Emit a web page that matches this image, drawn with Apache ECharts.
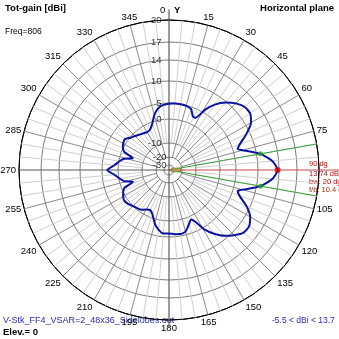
<!DOCTYPE html>
<html>
<head>
<meta charset="utf-8">
<script src="https://cdn.jsdelivr.net/npm/echarts@6/dist/echarts.min.js"></script>
<style>
  html, body { margin: 0; padding: 0; background: #fff; }
  #chart { width: 339px; height: 339px; }
</style>
</head>
<body>
<div id="chart"></div>
<script>
// Horizontal-plane total gain pattern, azimuth measured clockwise from +Y
const azimuthDeg = [0, 5, 10, 15, 20, 24, 27, 31, 35, 40, 45, 50, 55, 60, 65, 70, 73, 76, 80, 85,
  90, 95, 100, 104, 107, 110, 115, 120, 125, 130, 135, 140, 145, 149, 153, 156, 160, 165, 170, 175,
  180, 185, 190, 195, 200, 205, 210, 215, 220, 225, 230, 235, 240, 244, 248, 252, 256, 260, 265,
  270, 275, 280, 284, 288, 292, 296, 300, 305, 310, 315, 320, 325, 330, 335, 340, 345, 350, 355];
const gainDbi = [4.8, 4.9, 4.9, 4.8, 4.3, 2.4, 2.4, 5.8, 7.9, 9.8, 11.0, 11.8, 11.9, 11.1, 9.2, 6.9, 6.1, 7.8, 10.74, 12.8,
  13.74, 12.8, 10.74, 7.8, 6.1, 6.8, 9.2, 10.9, 11.7, 11.6, 10.6, 9.3, 7.4, 5.6, 2.2, 1.0, 2.2, 4.0, 4.4, 4.2,
  3.9, 4.0, 3.0, 1.3, -1.3, -2.8, -2.2, -1.0, -0.5, 0.0, 0.6, 1.0, 0.6, 0.0, -1.2, -5.5, -2.0, -0.4, 1.2,
  3.34, 1.2, -0.3, -2.0, -5.4, -1.2, 0.1, 0.6, 0.9, -0.3, -1.2, -2.0, -2.6, -3.0, -2.6, -0.8, 1.8, 3.6, 4.5];

// Ring values (dBi) and compass tick labels
const ringDbi = [20, 17, 14, 10, 5, 0, -10, -20, -30];
const angleTickDeg = [0, 15, 30, 45, 60, 75, 90, 105, 120, 135, 150, 165, 180, 195, 210, 225, 240, 255, 270, 285, 300, 315, 330, 345];

// Main-lobe summary
const peakAzimuth = 90;
const peakGain = 13.74;
const beamwidthDeg = 20;
const frontToBack = 10.4;
const freqMHz = 806;
const elevationDeg = 0;
const fileName = 'V-Stk_FF4_VSAR=2_48x36_Sidelobes.out';

// Compressed radial scale: dB -> radius units (outer ring = 150)
const SCALE_DB = [-40, -30, -20, -10, 0, 5, 10, 14, 17, 20];
const SCALE_R  = [0, 5, 13, 27, 51, 67, 89, 110, 128, 150];
function mapR(db) {
  if (db <= SCALE_DB[0]) return 0;
  for (let i = 1; i < SCALE_DB.length; i++) {
    if (db <= SCALE_DB[i]) {
      const t = (db - SCALE_DB[i - 1]) / (SCALE_DB[i] - SCALE_DB[i - 1]);
      return SCALE_R[i - 1] + t * (SCALE_R[i] - SCALE_R[i - 1]);
    }
  }
  return SCALE_R[SCALE_R.length - 1];
}
const R_MAX = mapR(ringDbi[0]);

const FONT = 'Liberation Sans, Arial, sans-serif';
const chart = echarts.init(document.getElementById('chart'), null, { renderer: 'canvas' });

const patternData = azimuthDeg.map((a, i) => [mapR(gainDbi[i]), a]);
patternData.push(patternData[0]);

// spokes: every 5 deg, 15-deg ones darker and starting further in
const spokeData = [];
for (let a = 0; a < 360; a += 5) {
  if (a % 90 === 0) continue;
  const major = a % 15 === 0;
  spokeData.push([major ? mapR(-20) : mapR(-10), a, major ? 1 : 0]);
}

const gMin = Math.min(...gainDbi), gMax = Math.max(...gainDbi);
const halfBw = beamwidthDeg / 2;

function distFromCenter(api, r, a) {
  const c = api.coord([0, 0]);
  const p = api.coord([r, a]);
  return { c, p, d: Math.hypot(p[0] - c[0], p[1] - c[1]) };
}

chart.setOption({
  animation: false,
  backgroundColor: '#fff',
  polar: { center: [169, 170], radius: 150 },
  angleAxis: {
    type: 'value', min: 0, max: 360, interval: 15, startAngle: 90, clockwise: true,
    axisLine: { show: true, lineStyle: { color: '#000', width: 1 } },
    axisTick: { show: false },
    splitLine: { show: false },
    axisLabel: {
      margin: 3, fontSize: 9.5, color: '#000', fontFamily: FONT,
      formatter: v => (angleTickDeg.indexOf(v) < 0 || v === 0 || v === peakAzimuth) ? '' : String(v)
    }
  },
  radiusAxis: {
    type: 'value', min: 0, max: R_MAX, show: false,
    axisLine: { show: false }, axisLabel: { show: false }, splitLine: { show: false }, axisTick: { show: false }
  },
  graphic: [
    { type: 'text', left: 5, top: 3, style: { text: 'Tot-gain [dBi]', font: 'bold 9.5px ' + FONT, fill: '#000' } },
    { type: 'text', right: 5, top: 3, style: { text: 'Horizontal plane', font: 'bold 9.5px ' + FONT, fill: '#000' } },
    { type: 'text', left: 5, top: 27, style: { text: 'Freq=' + freqMHz, font: '8.5px ' + FONT, fill: '#000' } },
    { type: 'text', left: 160, top: 5, style: { text: '0', font: '9.5px ' + FONT, fill: '#000' } },
    { type: 'text', left: 174, top: 5, style: { text: 'Y', font: 'bold 9.5px ' + FONT, fill: '#000' } },
    { type: 'text', left: 3, top: 316, style: { text: fileName, font: '9px ' + FONT, fill: '#2a2ab8' } },
    { type: 'text', left: 272, top: 316, style: { text: gMin.toFixed(1) + ' < dBi < ' + gMax.toFixed(1), font: '8.5px ' + FONT, fill: '#2a2ab8' } },
    { type: 'text', left: 3, top: 327, style: { text: 'Elev.= ' + elevationDeg, font: 'bold 9.5px ' + FONT, fill: '#000' } },
    { type: 'text', left: 309, top: 160, style: { text: peakAzimuth + ' dg', font: '7.5px ' + FONT, fill: '#c80000' } },
    { type: 'text', left: 309, top: 170, style: { text: peakGain.toFixed(2) + ' dB', font: '7.5px ' + FONT, fill: '#b01010' } },
    { type: 'text', left: 309, top: 178, style: { text: 'bw: ' + beamwidthDeg + ' dg', font: '7.5px ' + FONT, fill: '#c80000' } },
    { type: 'text', left: 309, top: 186, style: { text: 'f/b: ' + frontToBack.toFixed(1) + ' dB', font: '7.5px ' + FONT, fill: '#a83000' } }
  ],
  series: [
    { // rings
      type: 'custom', coordinateSystem: 'polar', silent: true, z: 1,
      data: ringDbi.map(d => [mapR(d), 0]),
      renderItem(params, api) {
        const g = distFromCenter(api, api.value(0), 0);
        return { type: 'circle', shape: { cx: g.c[0], cy: g.c[1], r: g.d },
          style: { fill: 'none', stroke: api.value(0) >= R_MAX ? '#000' : '#7c7c7c', lineWidth: 1 } };
      }
    },
    { // spokes
      type: 'custom', coordinateSystem: 'polar', silent: true, z: 1,
      data: spokeData,
      renderItem(params, api) {
        const a = api.value(1);
        const p0 = api.coord([api.value(0), a]);
        const p1 = api.coord([R_MAX, a]);
        return { type: 'line', shape: { x1: p0[0], y1: p0[1], x2: p1[0], y2: p1[1] },
          style: { stroke: api.value(2) ? '#8a8a8a' : '#cfcfcf', lineWidth: 1 } };
      }
    },
    { // main axes (0/180 and 270)
      type: 'custom', coordinateSystem: 'polar', silent: true, z: 2,
      data: [[R_MAX * 1.07, 0], [R_MAX * 1.05, 180], [R_MAX, 270]],
      renderItem(params, api) {
        const c = api.coord([0, 0]);
        const p = api.coord([api.value(0), api.value(1)]);
        return { type: 'line', shape: { x1: c[0], y1: c[1], x2: p[0], y2: p[1] },
          style: { stroke: '#5a5a5a', lineWidth: 1.2 } };
      }
    },
    { // beam-edge lines
      type: 'custom', coordinateSystem: 'polar', silent: true, z: 3,
      data: [[R_MAX, peakAzimuth - halfBw], [R_MAX, peakAzimuth + halfBw]],
      renderItem(params, api) {
        const c = api.coord([0, 0]);
        const p = api.coord([api.value(0), api.value(1)]);
        return { type: 'line', shape: { x1: c[0], y1: c[1], x2: p[0], y2: p[1] },
          style: { stroke: '#3aa03a', lineWidth: 1 } };
      }
    },
    { // peak direction line, running to the edge
      type: 'custom', coordinateSystem: 'polar', silent: true, z: 3,
      data: [[R_MAX, peakAzimuth]],
      renderItem(params, api) {
        const c = api.coord([0, 0]);
        const p = api.coord([api.value(0), api.value(1)]);
        const k = 1.25;
        return { type: 'line', shape: { x1: c[0], y1: c[1], x2: c[0] + (p[0] - c[0]) * k, y2: c[1] + (p[1] - c[1]) * k },
          style: { stroke: '#c04848', lineWidth: 1 } };
      }
    },
    { // ring labels
      type: 'scatter', coordinateSystem: 'polar', silent: true, z: 4,
      symbolSize: 1, itemStyle: { color: 'rgba(0,0,0,0)' },
      data: ringDbi.map(d => ({
        value: [mapR(d), 0],
        label: { show: true, position: 'left', distance: d <= -20 ? 2 : 7,
          formatter: String(d), fontSize: 9.5, color: '#000', fontFamily: FONT }
      }))
    },
    { // feed marker at origin
      type: 'scatter', coordinateSystem: 'polar', silent: true, z: 4,
      symbol: 'rect', symbolSize: [9, 4], symbolOffset: [7, 0],
      itemStyle: { color: '#a8a050', borderColor: '#6a6a20', borderWidth: 0.6 },
      data: [[0, peakAzimuth]]
    },
    { // gain pattern
      type: 'line', coordinateSystem: 'polar', z: 5,
      data: patternData, showSymbol: false, smooth: 0.2,
      lineStyle: { color: '#0b12a0', width: 2 }
    },
    { // -3 dB points
      type: 'scatter', coordinateSystem: 'polar', z: 6, symbolSize: 5,
      itemStyle: { color: '#20a020' },
      data: [[mapR(peakGain - 3), peakAzimuth - halfBw], [mapR(peakGain - 3), peakAzimuth + halfBw]]
    },
    { // peak point
      type: 'scatter', coordinateSystem: 'polar', z: 6, symbolSize: 6,
      itemStyle: { color: '#e00000' },
      data: [[mapR(peakGain), peakAzimuth]]
    }
  ]
});
</script>
</body>
</html>
